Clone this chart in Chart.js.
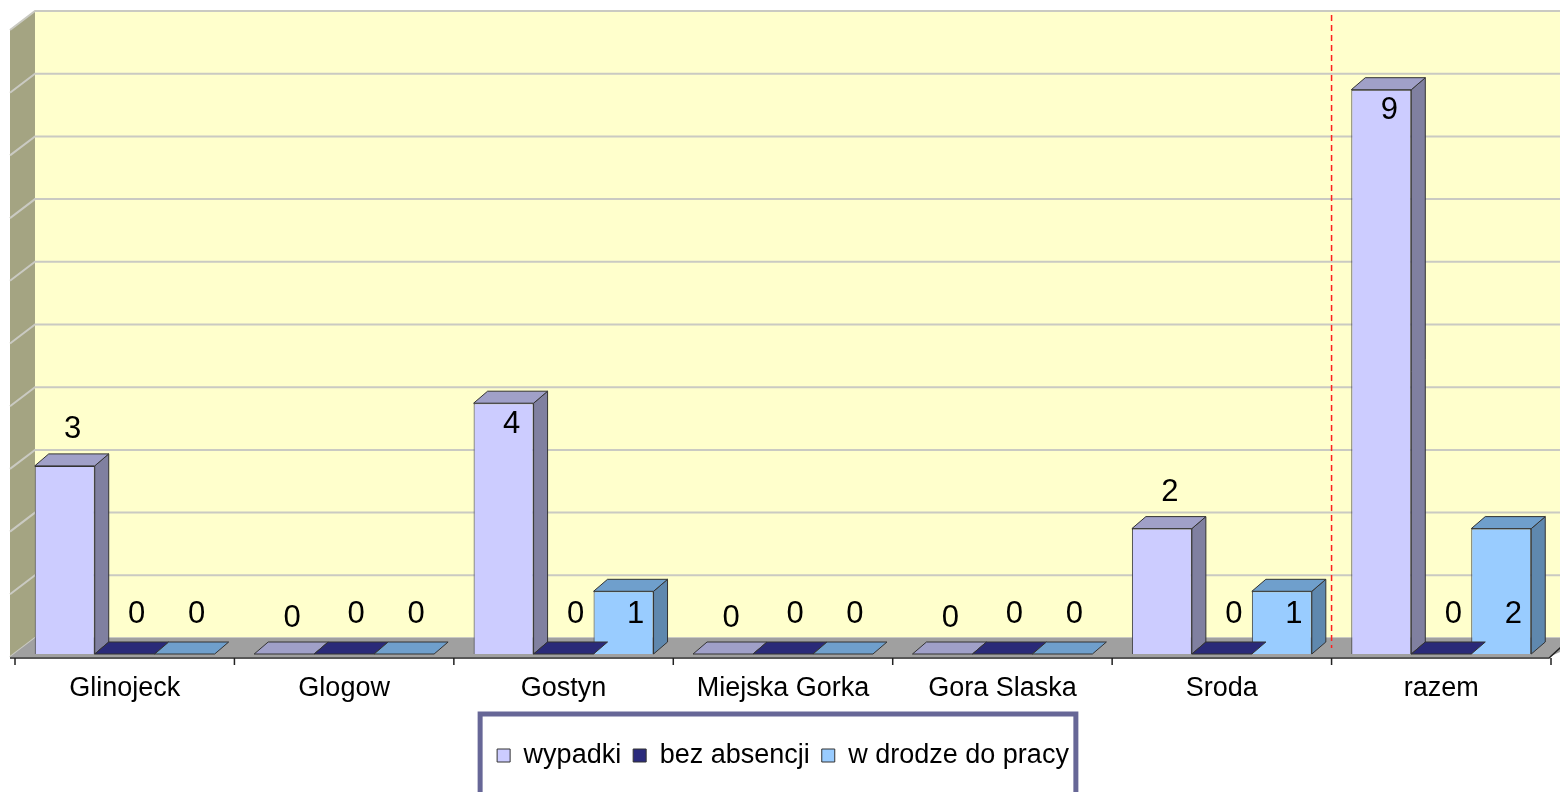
<!DOCTYPE html>
<html>
<head>
<meta charset="utf-8">
<script src="https://cdn.jsdelivr.net/npm/chart.js@4.4.1/dist/chart.umd.min.js"></script>
<style>
  html, body { margin: 0; padding: 0; background: #fff; }
  #wrap { width: 1560px; height: 792px; }
</style>
</head>
<body>
<div id="wrap"><canvas id="chart"></canvas></div>
<script>
// ---- data ----
const categories = ['Glinojeck', 'Glogow', 'Gostyn', 'Miejska Gorka', 'Gora Slaska', 'Sroda', 'razem'];
const wypadki = [3, 0, 4, 0, 0, 2, 9];
const bezAbsencji = [0, 0, 0, 0, 0, 0, 0];
const wDrodze = [0, 0, 1, 0, 0, 1, 2];
const gridValues = [0, 1, 2, 3, 4, 5, 6, 7, 8, 9, 10];
const splitAfter = 'Sroda'; // red dashed separator before "razem"

// face colours per series: front, top, side
const faces = [
    { front: '#ccccff', top: '#a0a0c8', side: '#8080a0' },
    { front: '#2b2b7c', top: '#2a2a78', side: '#1f1f5c' },
    { front: '#99ccff', top: '#6f9fcc', side: '#5f88ae' }
];

const BAR = { dx: 14, dy: 12 };     // depth of a column
const WALL = { dx: 25, dy: 19, back: 16 };

function poly(ctx, pts, fill, stroke) {
    ctx.beginPath();
    ctx.moveTo(pts[0][0], pts[0][1]);
    for (let i = 1; i < pts.length; i++) ctx.lineTo(pts[i][0], pts[i][1]);
    ctx.closePath();
    ctx.fillStyle = fill;
    ctx.fill();
    if (stroke) {
        ctx.strokeStyle = stroke;
        ctx.lineWidth = 1;
        ctx.stroke();
    }
}

const scenePlugin = {
    id: 'scene',
    beforeDatasetsDraw(chart) {
        const { ctx, chartArea: a, scales: { y } } = chart;
        const w = chart.width;
        const frontL = a.left - 5;
        const backL = frontL + WALL.dx;
        const floorFront = y.getPixelForValue(0) + 3;
        const floorBack = floorFront - WALL.dy;
        const wallTop = y.getPixelForValue(10) - WALL.back;
        ctx.save();
        // back wall
        ctx.fillStyle = '#ffffcc';
        ctx.fillRect(backL, wallTop, w - backL, floorBack - wallTop);
        // side wall
        poly(ctx, [[frontL, floorFront], [backL, floorBack], [backL, wallTop], [frontL, wallTop + WALL.dy]], '#a4a482');
        // grid lines on both walls
        ctx.strokeStyle = '#cacac2';
        ctx.lineWidth = 2;
        gridValues.forEach(v => {
            const gy = y.getPixelForValue(v) - WALL.back;
            ctx.beginPath();
            ctx.moveTo(frontL, gy + WALL.dy);
            ctx.lineTo(backL, gy);
            ctx.lineTo(w, gy);
            ctx.stroke();
        });
        // floor
        poly(ctx, [[frontL, floorFront], [backL, floorBack], [w + 30, floorBack], [a.right - 2, floorFront]], '#a0a0a0');
        // axis line and ticks
        ctx.strokeStyle = '#222';
        ctx.lineWidth = 1.5;
        ctx.beginPath();
        ctx.moveTo(frontL, floorFront + 1);
        ctx.lineTo(a.right - 2, floorFront + 1);
        ctx.lineTo(a.right - 2 + 12, floorFront + 1 - 11);
        const step = (a.right - a.left) / categories.length;
        for (let i = 0; i <= categories.length; i++) {
            const tx = a.left + i * step;
            ctx.moveTo(tx, floorFront + 1);
            ctx.lineTo(tx, floorFront + 8);
        }
        ctx.stroke();
        ctx.restore();
    },
    afterDatasetsDraw(chart) {
        const { ctx, chartArea: a } = chart;
        ctx.save();
        ctx.lineJoin = 'round';
        for (let c = 0; c < categories.length; c++) {
            chart.data.datasets.forEach((ds, d) => {
                const bar = chart.getDatasetMeta(d).data[c];
                const x0 = bar.x - bar.width / 2;
                const x1 = bar.x + bar.width / 2;
                const top = bar.y, base = bar.base;
                const f = faces[d];
                if (base - top > 0.5) {
                    poly(ctx, [[x1, top], [x1 + BAR.dx, top - BAR.dy], [x1 + BAR.dx, base - BAR.dy], [x1, base]], f.side, '#333');
                }
                poly(ctx, [[x0, top], [x0 + BAR.dx, top - BAR.dy], [x1 + BAR.dx, top - BAR.dy], [x1, top]], f.top, '#333');
            });
        }
        // red dashed separator
        const idx = categories.indexOf(splitAfter);
        const step = (a.right - a.left) / categories.length;
        const sx = a.left + (idx + 1) * step;
        ctx.strokeStyle = '#ff2020';
        ctx.lineWidth = 1.5;
        ctx.setLineDash([6, 4]);
        ctx.beginPath();
        ctx.moveTo(sx, 15);
        ctx.lineTo(sx, a.bottom - 6);
        ctx.stroke();
        ctx.setLineDash([]);
        // value labels
        ctx.fillStyle = '#000';
        ctx.font = '31px "Liberation Sans", Arial, sans-serif';
        ctx.textAlign = 'center';
        ctx.textBaseline = 'middle';
        chart.data.datasets.forEach((ds, d) => {
            chart.getDatasetMeta(d).data.forEach((bar, i) => {
                const v = ds.data[i];
                let ly, lx;
                if (d === 0) {
                    lx = bar.x + 8;
                    ly = v >= 4 ? bar.y + 21 : bar.y - 36;
                } else {
                    lx = bar.x + 12;
                    ly = bar.base - 40;
                }
                ctx.fillText(String(v), lx, ly);
            });
        });
        ctx.restore();
    },
    afterDraw(chart) {
        const lg = chart.legend;
        if (!lg || !lg.legendHitBoxes || !lg.legendHitBoxes.length) return;
        const boxes = lg.legendHitBoxes;
        const l = Math.min(...boxes.map(b => b.left)) - 17;
        const r = Math.max(...boxes.map(b => b.left + b.width)) + 7;
        const ctx = chart.ctx;
        ctx.save();
        ctx.strokeStyle = '#676797';
        ctx.lineWidth = 5;
        ctx.beginPath();
        ctx.moveTo(l, 810);
        ctx.lineTo(l, lg.top - 16);
        ctx.lineTo(r, lg.top - 16);
        ctx.lineTo(r, 810);
        ctx.stroke();
        ctx.restore();
    }
};

const labelFont = { family: '"Liberation Sans", Arial, sans-serif', size: 27 };

new Chart(document.getElementById('chart'), {
    type: 'bar',
    data: {
        labels: categories,
        datasets: [
            { label: 'wypadki', data: wypadki, backgroundColor: faces[0].front, borderColor: '#333', borderWidth: 1 },
            { label: 'bez absencji', data: bezAbsencji, backgroundColor: faces[1].front, borderColor: '#333', borderWidth: 1 },
            { label: 'w drodze do pracy', data: wDrodze, backgroundColor: faces[2].front, borderColor: '#333', borderWidth: 1 }
        ]
    },
    options: {
        responsive: true,
        maintainAspectRatio: false,
        animation: false,
        categoryPercentage: 0.82,
        barPercentage: 1,
        layout: { padding: { left: 15, right: 9, top: 27, bottom: 13 } },
        scales: {
            x: {
                grid: { display: false, drawTicks: false },
                border: { display: false },
                ticks: { color: '#000', font: labelFont, padding: 18, maxRotation: 0 },
                afterFit(scale) { scale.height = 76; }
            },
            y: {
                display: false,
                min: 0,
                max: 10
            }
        },
        plugins: {
            legend: {
                position: 'bottom',
                labels: { color: '#000', font: labelFont, boxWidth: 13, boxHeight: 13, padding: 12 }
            },
            tooltip: { enabled: false }
        }
    },
    plugins: [scenePlugin]
});
</script>
</body>
</html>
